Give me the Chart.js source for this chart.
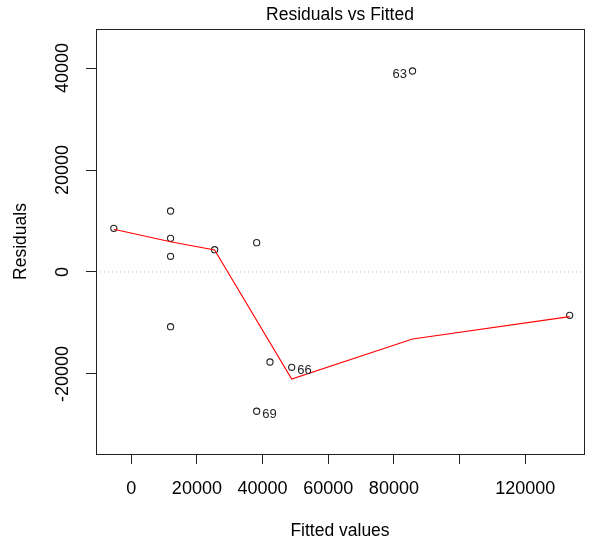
<!DOCTYPE html>
<html><head><meta charset="utf-8">
<script src="https://cdn.jsdelivr.net/npm/chart.js@4"></script>
<style>html,body{margin:0;padding:0;background:#fff;}</style>
</head><body>
<canvas id="c" width="592" height="546"></canvas>
<script>
// ---- data ----
const fittedValues   = [-5300, 11980, 11980, 11980, 11980, 25400, 38200, 42260, 48870, 38200, 85670, 133540];
const residualValues = [ 8570, 11960,  6610,  3080,-10730,  4370,  5750,-17650,-18690,-27310, 39410,  -8490];
const pointIds       = ["", "", "", "", "", "", "", "", "66", "69", "63", ""];
const smoothFitted   = [-5300, 11980, 25400, 48870, 85670, 133540];
const smoothResidual = [ 8370,  5940,  4310,-20980,-13140,  -8760];
const xTickValues = [0, 20000, 40000, 60000, 80000, 100000, 120000];
const xTickLabels = ["0", "20000", "40000", "60000", "80000", "", "120000"];
const yTickValues = [-20000, 0, 20000, 40000];
const yTickLabels = ["-20000", "0", "20000", "40000"];
const xLimits = [-10730, 137900];
const yLimits = [-35690, 47650];

const FAMILY = '"Liberation Sans", Arial, sans-serif';

const pointData  = fittedValues.map((x, i) => ({x, y: residualValues[i]}));
const smoothData = smoothFitted.map((x, i) => ({x, y: smoothResidual[i]}));
const zeroData   = [{x: xLimits[0], y: 0}, {x: xLimits[1], y: 0}];

const frame = {
  id: 'frame',
  afterDraw(chart) {
    const {ctx, chartArea: a} = chart;
    ctx.save();
    ctx.strokeStyle = '#222';
    ctx.lineWidth = 1;
    ctx.strokeRect(Math.round(a.left) + 0.5, Math.round(a.top) + 0.5,
                   Math.round(a.right - a.left), Math.round(a.bottom - a.top));
    ctx.restore();
  }
};

const idLabels = {
  id: 'idLabels',
  afterDatasetsDraw(chart) {
    const meta = chart.getDatasetMeta(1);
    const xs = chart.scales.x;
    const mid = (xs.min + xs.max) / 2;
    const ctx = chart.ctx;
    ctx.save();
    ctx.font = '13px ' + FAMILY;
    ctx.fillStyle = '#222';
    ctx.textBaseline = 'middle';
    meta.data.forEach((el, i) => {
      const id = pointIds[i];
      if (!id) return;
      const onLeft = fittedValues[i] > mid;
      ctx.textAlign = onLeft ? 'right' : 'left';
      ctx.fillText(id, el.x + (onLeft ? -5.5 : 5.5), el.y + 3);
    });
    ctx.restore();
  }
};

new Chart(document.getElementById('c'), {
  type: 'scatter',
  data: {
    datasets: [
      { type: 'line', data: smoothData, borderColor: '#ff0000', borderWidth: 1.1,
        pointRadius: 0, fill: false, tension: 0 },
      { data: pointData, pointStyle: 'circle', pointRadius: 3.1,
        backgroundColor: 'rgba(0,0,0,0)', borderColor: '#222', borderWidth: 1.1 },
      { type: 'line', data: zeroData, borderColor: '#bebebe', borderWidth: 1,
        borderDash: [1, 3], pointRadius: 0, fill: false }
    ]
  },
  options: {
    responsive: false,
    animation: false,
    devicePixelRatio: 1,
    events: [],
    layout: { padding: { left: 0, right: 8, top: 0, bottom: 0 } },
    plugins: {
      legend: { display: false },
      tooltip: { enabled: false },
      title: {
        display: true, text: 'Residuals vs Fitted', fullSize: false,
        color: '#000', font: { family: FAMILY, size: 17.5, weight: 'normal' },
        padding: { top: 5, bottom: 3 }
      }
    },
    scales: {
      x: {
        type: 'linear', min: xLimits[0], max: xLimits[1],
        afterBuildTicks: s => { s.ticks = xTickValues.map(v => ({value: v})); },
        afterFit: s => { s.height = 92; },
        border: { display: false },
        grid: { display: true, drawOnChartArea: false, drawTicks: true, tickLength: 10, tickColor: '#222', tickWidth: 1 },
        ticks: {
          autoSkip: false, maxRotation: 0, minRotation: 0, padding: 14,
          color: '#000', font: { family: FAMILY, size: 18 },
          callback: (v) => { const i = xTickValues.indexOf(v); return i >= 0 ? xTickLabels[i] : ''; }
        },
        title: { display: true, text: 'Fitted values', color: '#000',
          font: { family: FAMILY, size: 17.5 }, padding: { top: 0, bottom: 4.5 } }
      },
      y: {
        type: 'linear', min: yLimits[0], max: yLimits[1],
        afterBuildTicks: s => { s.ticks = yTickValues.map(v => ({value: v})); },
        afterFit: s => { s.width = 96; },
        border: { display: false },
        grid: { display: true, drawOnChartArea: false, drawTicks: true, tickLength: 10, tickColor: '#222', tickWidth: 1 },
        ticks: {
          autoSkip: false, minRotation: 90, maxRotation: 90, crossAlign: 'center', padding: -5.5,
          color: '#000', font: { family: FAMILY, size: 18 },
          callback: (v) => { const i = yTickValues.indexOf(v); return i >= 0 ? yTickLabels[i] : ''; }
        },
        title: { display: true, text: 'Residuals', color: '#000',
          font: { family: FAMILY, size: 17.5 }, padding: { top: 10.5, bottom: 0 } }
      }
    }
  },
  plugins: [frame, idLabels]
});
</script>
</body></html>
